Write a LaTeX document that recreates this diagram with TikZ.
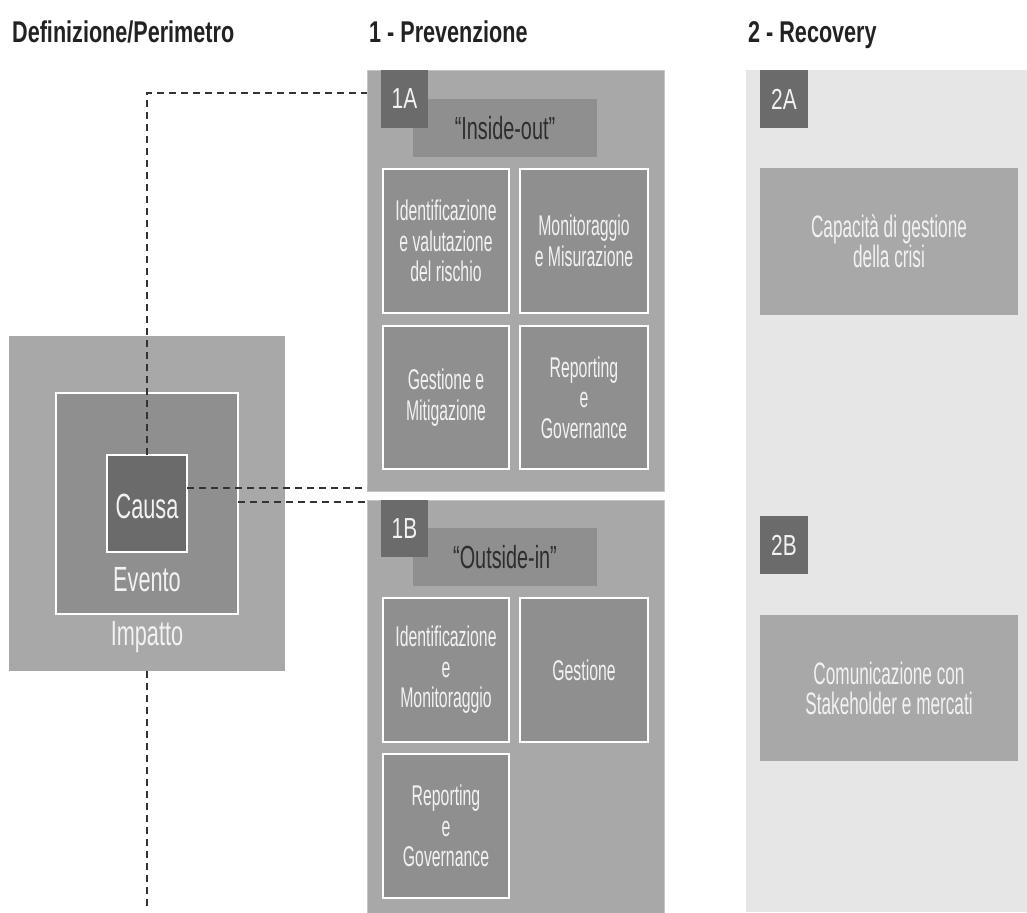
\documentclass[tikz,border=0pt]{standalone}
\usepackage{fontspec}
\setmainfont{Liberation Sans}[FakeStretch=0.62]
\newfontfamily\bodyfont{Liberation Sans}[FakeStretch=0.555]
\newfontfamily\hdrfont{Liberation Sans}[FakeStretch=0.72]
\definecolor{gbg}{HTML}{E6E6E6}
\definecolor{gmid}{HTML}{A8A8A8}
\definecolor{gsub}{HTML}{8F8F8F}
\definecolor{gdark}{HTML}{6B6B6B}
\definecolor{gline}{HTML}{C4C4C4}
\definecolor{gdash}{HTML}{333333}
\definecolor{txtw}{HTML}{F2F2F2}
\definecolor{txtd}{HTML}{2E2E2E}
\definecolor{txth}{HTML}{222222}
\begin{document}
\begin{tikzpicture}[x=1pt,y=-1pt,
  base/.style={rectangle, inner sep=0pt, outer sep=0pt, anchor=north west, align=center},
  colbg/.style={base, fill=gbg},
  panel/.style={base, fill=gmid, draw=gline, line width=0.6pt},
  tagbox/.style={base, fill=gdark, text=txtw, font=\hdrfont\fontsize{29}{29}\selectfont},
  subbox/.style={base, fill=gsub, draw=white, line width=1.3pt, text=txtw, font=\bodyfont\fontsize{28.5}{30.5}\selectfont},
  titlebox/.style={base, fill=gsub, text=txtd, font=\fontsize{32}{32}\selectfont},
  rbox/.style={base, fill=gmid, text=txtw, font=\bodyfont\fontsize{31}{30}\selectfont},
  hdr/.style={inner sep=0pt, anchor=base west, text=txth, font=\hdrfont\bfseries\fontsize{30}{30}\selectfont},
  lbl/.style={inner sep=0pt, anchor=base, text=txtw, font=\fontsize{35}{35}\selectfont},
  conn/.style={draw=gdash, line width=1.4pt, dash pattern=on 7pt off 5pt}
]
\useasboundingbox[fill=white] (0,0) rectangle (1027,912);

% headers
\node[hdr] (h0) at (12,43) {Definizione/Perimetro};
\node[hdr] (h1) at (369,43) {1 - Prevenzione};
\node[hdr] (h2) at (748,43) {2 - Recovery};

% right column
\node[colbg, minimum width=281, minimum height=842] (col2) at (746,70) {};
\node[tagbox, minimum width=48, minimum height=58] (t2a) at (760,70) {2A};
\node[rbox, minimum width=258, minimum height=147] (cap) at (760,168) {Capacità di gestione\\della crisi};
\node[tagbox, minimum width=48, minimum height=58] (t2b) at (760,516) {2B};
\node[rbox, minimum width=258, minimum height=146] (com) at (760,615) {Comunicazione con\\Stakeholder e mercati};

% 1A panel
\node[panel, minimum width=297, minimum height=421] (p1a) at (367,70) {};
\node[titlebox, minimum width=184, minimum height=58] (io) at (413,99) {“Inside-out”};
\node[tagbox, minimum width=47, minimum height=58] (t1a) at (381,70) {1A};
\node[subbox, minimum width=126, minimum height=144] (a1) at (383,169) {Identificazione\\e valutazione\\del rischio};
\node[subbox, minimum width=128, minimum height=144] (a2) at (520,169) {Monitoraggio\\e Misurazione};
\node[subbox, minimum width=126, minimum height=143] (a3) at (383,326) {Gestione e\\Mitigazione};
\node[subbox, minimum width=128, minimum height=143] (a4) at (520,326) {Reporting\\e\\Governance};

% 1B panel
\node[panel, minimum width=297, minimum height=420] (p1b) at (367,500) {};
\node[titlebox, minimum width=184, minimum height=58] (oi) at (413,528) {“Outside-in”};
\node[tagbox, minimum width=47, minimum height=57] (t1b) at (381,500) {1B};
\node[subbox, minimum width=126, minimum height=144] (b1) at (383,598) {Identificazione\\e\\Monitoraggio};
\node[subbox, minimum width=128, minimum height=144] (b2) at (520,598) {Gestione};
\node[subbox, minimum width=126, minimum height=144] (b3) at (383,754) {Reporting\\e\\Governance};

% left nested squares
\node[base, fill=gmid, minimum width=276, minimum height=335] (imp) at (9,336) {};
\node[base, fill=gsub, draw=white, line width=1.3pt, minimum width=182, minimum height=221] (ev) at (56,393) {};
\node[base, fill=gdark, draw=white, line width=1.3pt, minimum width=80, minimum height=97] (causa) at (107,455) {};
\node[lbl] (causat) at (147,518) {Causa};
\node[lbl] (evt) at (147,591) {Evento};
\node[lbl] (impt) at (147,645) {Impatto};

% connectors
\coordinate (tA) at (367,93);
\coordinate (tB) at (367,488);
\coordinate (tC) at (367,502);
\coordinate (bot) at (147,906);
\draw[conn] (causa.north) |- (tA);
\draw[conn] (causa.east |- tB) -- (tB);
\draw[conn] (ev.east |- tC) -- (tC);
\draw[conn] (imp.south) -- (bot);
\end{tikzpicture}
\end{document}
